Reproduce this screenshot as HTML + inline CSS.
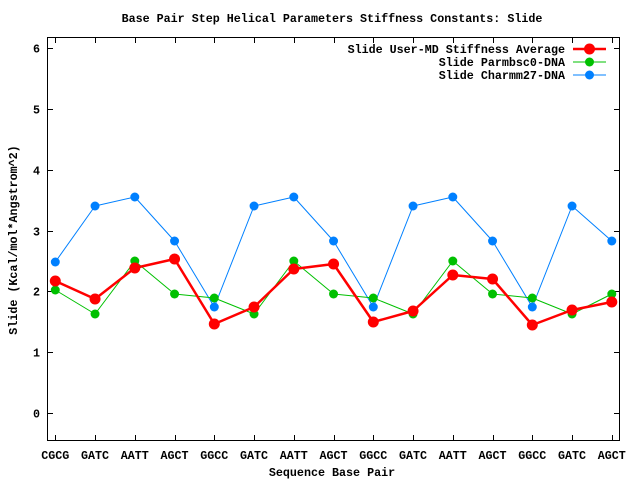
<!DOCTYPE html>
<html><head><style>body{margin:0;background:#fff}svg{display:block}text{font-family:"Liberation Mono",monospace;font-weight:bold;font-size:11.7px;fill:#000}</style></head>
<body>
<svg width="640" height="480" viewBox="0 0 640 480" xmlns="http://www.w3.org/2000/svg">
<rect width="640" height="480" fill="#fff"/>
<text x="332" y="22" text-anchor="middle">Base Pair Step Helical Parameters Stiffness Constants: Slide</text>
<g id="ticks" stroke="#000" stroke-width="1"></g>
<rect x="47.5" y="37.5" width="572" height="403" fill="none" stroke="#000"/>
<g id="labels"></g>
<text x="332" y="476" text-anchor="middle">Sequence Base Pair</text>
<text transform="translate(17,240) rotate(-90)" text-anchor="middle">Slide (Kcal/mol*Angstrom^2)</text>
<g id="series"></g>
<text x="565" y="53" text-anchor="end">Slide User-MD Stiffness Average</text>
<text x="565" y="66" text-anchor="end">Slide Parmbsc0-DNA</text>
<text x="565" y="79" text-anchor="end">Slide Charmm27-DNA</text>
<line x1="573" y1="49" x2="606" y2="49" stroke="#f00" stroke-width="2.5"/><circle cx="589.5" cy="49" r="5.5" fill="#f00"/>
<line x1="573" y1="62" x2="606" y2="62" stroke="#00c000" stroke-width="1"/><circle cx="589.5" cy="62" r="4.5" fill="#00c000"/>
<line x1="573" y1="75" x2="606" y2="75" stroke="#0080ff" stroke-width="1"/><circle cx="589.5" cy="75" r="4.5" fill="#0080ff"/>
</svg>
<script>
var ns="http://www.w3.org/2000/svg";
function el(p,t,a,txt){var e=document.createElementNS(ns,t);for(var k in a)e.setAttribute(k,a[k]);if(txt)e.textContent=txt;p.appendChild(e);return e;}
var tk=document.getElementById('ticks'),lb=document.getElementById('labels'),sr=document.getElementById('series');
var names=["CGCG","GATC","AATT","AGCT","GGCC","GATC","AATT","AGCT","GGCC","GATC","AATT","AGCT","GGCC","GATC","AGCT"];
function X(i){return 55.3+39.75*i;}
for(var i=0;i<15;i++){var x=Math.round(X(i))+0.5;
el(tk,'line',{x1:x,y1:440,x2:x,y2:435});el(tk,'line',{x1:x,y1:38,x2:x,y2:43});
el(lb,'text',{x:X(i),y:459,'text-anchor':'middle'},names[i]);}
for(var v=0;v<=6;v++){var y=Math.round(413-60.8*v)+0.5;
el(tk,'line',{x1:48,y1:y,x2:53,y2:y});el(tk,'line',{x1:619,y1:y,x2:614,y2:y});
el(lb,'text',{x:40,y:y+4,'text-anchor':'end'},String(v));}
var data=[
["#0080ff",1,4.5,[262,206,197,241,307,206,197,241,307,206,197,241,307,206,241]],
["#00c000",1,4.5,[290,314,261,294,298,314,261,294,298,314,261,294,298,314,294]],
["#f00",2.5,5.5,[281,299,268,259,324,307,269,264,322,311,275,279,325,310,302]]];
data.forEach(function(d){var pts=d[3].map(function(y,i){return X(i)+","+y;}).join(" ");
el(sr,'polyline',{points:pts,fill:'none',stroke:d[0],'stroke-width':d[1],'stroke-linejoin':'round'});
d[3].forEach(function(y,i){el(sr,'circle',{cx:X(i),cy:y,r:d[2],fill:d[0]});});});
</script>
</body></html>
